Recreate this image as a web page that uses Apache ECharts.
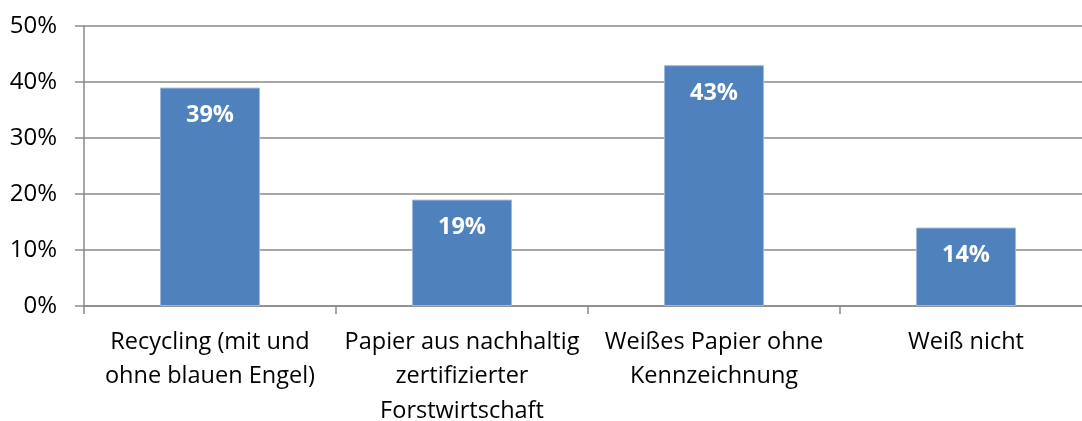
<!DOCTYPE html>
<html>
<head>
<meta charset="utf-8">
<script src="https://cdn.jsdelivr.net/npm/echarts@6/dist/echarts.min.js"></script>
<style>
  html, body { margin: 0; padding: 0; background: #fff; }
  #chart { width: 1082px; height: 421px; }
</style>
</head>
<body>
<div id="chart"></div>
<script>
// Survey answers: which paper is used
const categories = [
  'Recycling (mit und\nohne blauen Engel)',
  'Papier aus nachhaltig\nzertifizierter\nForstwirtschaft',
  'Weißes Papier ohne\nKennzeichnung',
  'Weiß nicht'
];
const shares = [39, 19, 43, 14];
const yTicks = [0, 10, 20, 30, 40, 50];

const FONT = '"Open Sans", "Noto Sans", sans-serif';
const GRID_COLOR = '#8a8a8a';

const chart = echarts.init(document.getElementById('chart'), null, { renderer: 'canvas' });
chart.setOption({
  animation: false,
  // plot box runs slightly past the right edge of the canvas
  grid: { left: 84, top: 26, width: 1008, height: 280, containLabel: false, outerBoundsMode: 'none' },
  xAxis: {
    type: 'category',
    data: categories,
    boundaryGap: true,
    axisLine: { show: true, lineStyle: { color: GRID_COLOR, width: 1.5 } },
    axisTick: { show: true, length: 8, interval: 0, lineStyle: { color: GRID_COLOR, width: 1.5 } },
    axisLabel: {
      interval: 0,
      margin: 19,
      color: '#000',
      fontFamily: FONT,
      fontSize: 23.5,
      lineHeight: 34.5
    }
  },
  yAxis: {
    type: 'value',
    min: yTicks[0],
    max: yTicks[yTicks.length - 1],
    interval: 10,
    axisLine: { show: true, lineStyle: { color: GRID_COLOR, width: 1.5 } },
    axisTick: { show: true, length: 9, lineStyle: { color: GRID_COLOR, width: 1.5 } },
    splitLine: { show: true, lineStyle: { color: GRID_COLOR, width: 1.5 } },
    axisLabel: {
      formatter: '{value}%',
      margin: 27,
      color: '#000',
      fontFamily: FONT,
      fontSize: 24
    }
  },
  series: [{
    type: 'bar',
    data: shares,
    barWidth: '39.7%',
    itemStyle: { color: '#4F81BD', borderColor: '#9DB8DB', borderWidth: 1 },
    label: {
      show: true,
      position: 'insideTop',
      distance: 16,
      formatter: '{c}%',
      color: '#fff',
      fontFamily: FONT,
      fontWeight: 'bold',
      fontSize: 23.5
    }
  }]
});
</script>
</body>
</html>
